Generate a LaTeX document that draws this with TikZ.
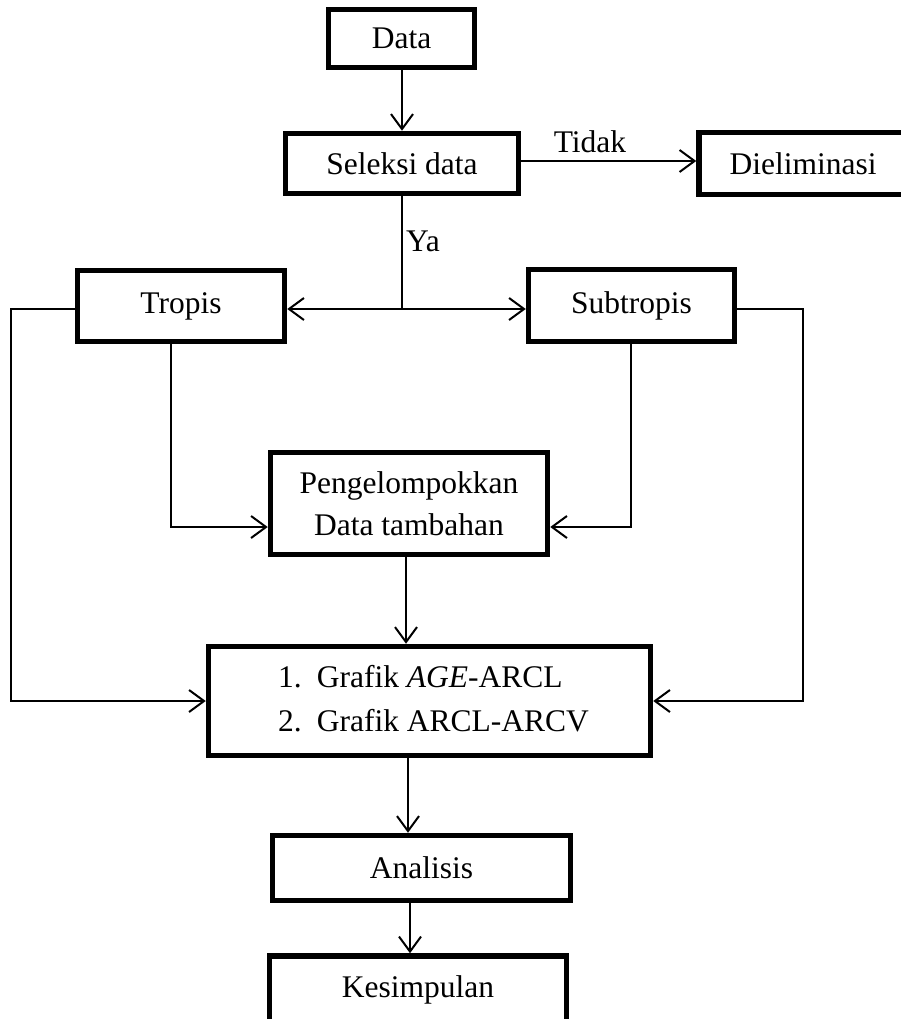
\documentclass[tikz,border=0pt]{standalone}
\usepackage{fontspec}
\setmainfont{Liberation Serif}
\usetikzlibrary{arrows.meta,calc}
\begin{document}
\begin{tikzpicture}[x=1pt,y=-1pt,
  box/.style={draw,line width=5.5pt,rectangle,inner sep=0pt,align=center,
    font=\fontsize{31.5}{42}\selectfont},
  lbl/.style={inner sep=0pt,font=\fontsize{31.5}{42}\selectfont},
  conn/.style={line width=2pt},
  arr/.style={conn,-{Straight Barb[length=15pt,width=22pt]}}]
\useasboundingbox (0,0) rectangle (901,1019);
\clip (0,0) rectangle (901,1019);
\node[box,minimum width=146pt,minimum height=58pt] (data) at (401.5,38.5) {Data};
\node[box,minimum width=233pt,minimum height=60pt] (seleksi) at (402,163.5) {Seleksi data};
\node[box,minimum width=224pt,minimum height=62pt] (elim) at (811,163.5) {Dieliminasi\hspace*{16pt}};
\node[box,minimum width=207pt,minimum height=71pt] (tropis) at (181,306) {Tropis};
\node[box,minimum width=206pt,minimum height=72pt] (subtropis) at (631.5,305.5) {Subtropis};
\node[box,minimum width=277pt,minimum height=102pt] (peng) at (409,503.5) {Pengelompokkan\\Data tambahan};
\node[box,minimum width=442pt,minimum height=109pt] (grafik) at (429.5,701) {};
\node[lbl,anchor=west,align=left] (gtext) at (278,701)
  {\begin{tabular}{@{}l@{\hspace{15pt}}l@{}}1. & Grafik \textit{AGE}-ARCL\\[2pt] 2. & Grafik ARCL-ARCV\end{tabular}};
\node[box,minimum width=298pt,minimum height=65pt] (analisis) at (421.5,868) {Analisis};
\node[box,minimum width=297pt,minimum height=68pt] (kesimpulan) at (418,990) {Kesimpulan};
% labels
\node[lbl] (tidak) at (590,142) {Tidak};
\node[lbl] (ya) at (423,241) {Ya};
% coordinates
\coordinate (j) at (402,309);
\coordinate (L) at (11,309);
\coordinate (R) at (803,309);
\coordinate (LB) at (11,701);
\coordinate (RB) at (803,701);
\coordinate (TB) at (171,527);
\coordinate (SB) at (631,527);
% connectors
\draw[arr] (data.south -| j) -- (seleksi.north -| j);
\draw[arr] (seleksi.east |- 0,161) -- (elim.west |- 0,161);
\draw[conn] (seleksi.south -| j) -- (j);
\draw[arr] (j) -- (j -| tropis.east);
\draw[arr] (j) -- (j -| subtropis.west);
\draw[arr] (tropis.west |- L) -- (L) -- (LB) -- (LB -| grafik.west);
\draw[arr] (subtropis.east |- R) -- (R) -- (RB) -- (RB -| grafik.east);
\draw[arr] (tropis.south -| TB) -- (TB) -- (TB -| peng.west);
\draw[arr] (subtropis.south -| SB) -- (SB) -- (SB -| peng.east);
\draw[arr] (peng.south -| 406,0) -- (grafik.north -| 406,0);
\draw[arr] (grafik.south -| 408,0) -- (analisis.north -| 408,0);
\draw[arr] (analisis.south -| 410,0) -- (kesimpulan.north -| 410,0);
\end{tikzpicture}
\end{document}
